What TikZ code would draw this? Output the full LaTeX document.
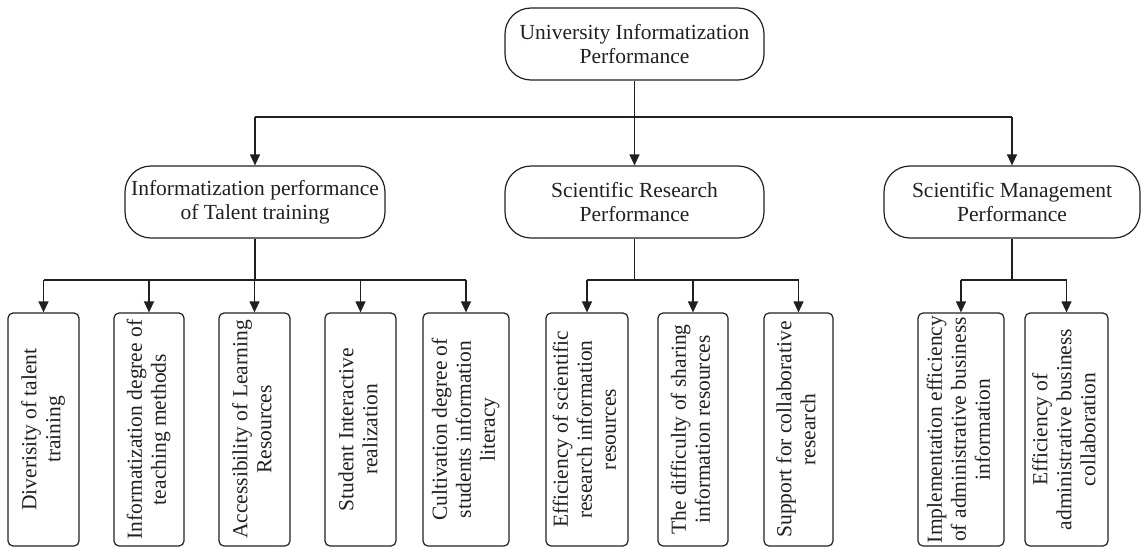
\documentclass[tikz,border=0pt]{standalone}
\usepackage{fontspec}
\setmainfont{Liberation Serif}
\usetikzlibrary{arrows.meta}
\definecolor{ink}{HTML}{231F20}
\begin{document}
\begin{tikzpicture}[x=1pt,y=-1pt,
  font=\fontsize{21.5}{24}\selectfont,
  catbox/.style={draw=ink, line width=1.2pt, rounded corners=26pt, minimum height=72pt, inner sep=0pt, align=center, text=ink},
  leafbox/.style={draw=ink, line width=1.2pt, rounded corners=5pt, minimum height=233pt, inner sep=0pt, text=ink},
  conn/.style={draw=ink, line width=1.2pt},
  arr/.style={conn, -{Triangle[width=10pt,length=11pt]}}
]
\useasboundingbox (0,0) rectangle (1141,547);
\newcommand{\vtext}[1]{\rotatebox{90}{\begin{tabular}{@{}c@{}}#1\end{tabular}}}

% top and category nodes
\node[catbox, minimum width=259pt] (top) at (634.5,44) {University Informatization\\Performance};
\node[catbox, minimum width=260pt] (n1) at (255,202) {Informatization performance\\of Talent training};
\node[catbox, minimum width=259pt] (n2) at (634.5,202) {Scientific Research\\Performance};
\node[catbox, minimum width=256pt] (n3) at (1012,202) {Scientific Management\\Performance};

% leaves
\node[leafbox, minimum width=71pt] (l1) at (43.5,429.5) {\vtext{Diverisity of talent\\training}};
\node[leafbox, minimum width=70pt] (l2) at (149,429.5) {\vtext{Informatization degree of\\teaching methods}};
\node[leafbox, minimum width=71pt] (l3) at (254.5,429.5) {\vtext{Accessibility of Learning\\Resources}};
\node[leafbox, minimum width=71pt] (l4) at (360.5,429.5) {\vtext{Student Interactive\\realization}};
\node[leafbox, minimum width=86pt] (l5) at (466,429.5) {\vtext{Cultivation degree of\\students information\\literacy}};
\node[leafbox, minimum width=82pt] (l6) at (587,429.5) {\vtext{Efficiency of scientific\\research information\\resources}};
\node[leafbox, minimum width=70pt] (l7) at (693,429.5) {\vtext{The difficulty of sharing\\information resources}};
\node[leafbox, minimum width=69pt] (l8) at (798.5,429.5) {\vtext{Support for collaborative\\research}};
\node[leafbox, minimum width=86pt] (l9) at (961,429.5) {\vtext{Implementation efficiency\\of administrative business\\information}};
\node[leafbox, minimum width=83pt] (l10) at (1066.5,429.5) {\vtext{Efficiency of\\administrative business\\collaboration}};

% junction coordinates
\coordinate (h0) at (top.south |- 0,117);
\coordinate (h1) at (n1.south |- 0,280);
\coordinate (h2) at (n2.south |- 0,280);
\coordinate (h3) at (n3.south |- 0,280);

% top level connectors
\draw[arr] (top.south) -- (n2.north);
\draw[conn] (n1.north |- h0) -- (n3.north |- h0);
\draw[arr] (n1.north |- h0) -- (n1.north);
\draw[arr] (n3.north |- h0) -- (n3.north);

% talent training
\draw[conn] (n1.south) -- (h1);
\draw[conn] (l1.north |- h1) -- (l5.north |- h1);
\foreach \l in {l1,l2,l3,l4,l5}
  \draw[arr] (\l.north |- h1) -- (\l.north);

% research
\draw[conn] (n2.south) -- (h2);
\draw[conn] (l6.north |- h2) -- (l8.north |- h2);
\foreach \l in {l6,l7,l8}
  \draw[arr] (\l.north |- h2) -- (\l.north);

% management
\draw[conn] (n3.south) -- (h3);
\draw[conn] (l9.north |- h3) -- (l10.north |- h3);
\foreach \l in {l9,l10}
  \draw[arr] (\l.north |- h3) -- (\l.north);
\end{tikzpicture}
\end{document}
